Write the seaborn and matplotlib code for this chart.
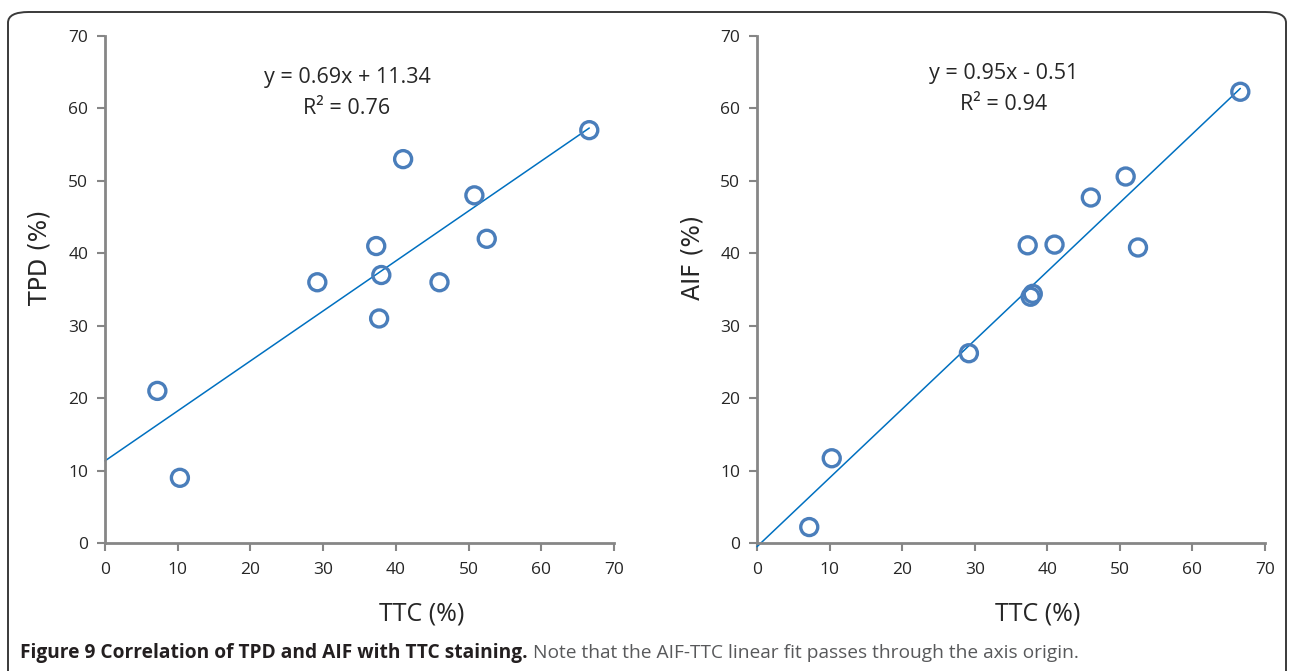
import numpy as np
import pandas as pd
import matplotlib
matplotlib.use('Agg')
import matplotlib.pyplot as plt
import seaborn as sns
from matplotlib.patches import FancyBboxPatch

# values
ttc = [7.2, 10.3, 29.2, 37.3, 37.7, 38.0, 41.0, 46.0, 50.8, 52.5, 66.6]
tpd = [21.0, 9.0, 36.0, 41.0, 31.0, 37.0, 53.0, 36.0, 48.0, 42.0, 57.0]
aif = [2.2, 11.7, 26.2, 41.1, 34.0, 34.4, 41.2, 47.7, 50.6, 40.8, 62.3]

# trendline coefficients as printed on the chart
fits = {'TPD': (0.69, 11.34, '0.76'), 'AIF': (0.95, -0.51, '0.94')}
ticks = [0, 10, 20, 30, 40, 50, 60, 70]

df = pd.DataFrame({'TTC': ttc, 'TPD': tpd, 'AIF': aif})

sns.set_style('white')
plt.rcParams['font.family'] = ['Open Sans', 'DejaVu Sans']

W, H = 1293, 671
fig = plt.figure(figsize=(W / 100, H / 100), dpi=100)
frame = FancyBboxPatch((8 / W, -0.05), 1278 / W, (H - 12) / H + 0.05,
                       boxstyle='round,pad=0,rounding_size=0.016',
                       transform=fig.transFigure, facecolor='none',
                       edgecolor='#3a3a3a', linewidth=1.4, clip_on=False)
fig.patches.append(frame)

axes_pos = [[105 / W, 128 / H, 509 / W, 507 / H],
            [757 / W, 128 / H, 508 / W, 507 / H]]
eq_x = [347, 1004]
eq_y = [77, 74]
xlab_x = [0.623, 0.553]

for i, col in enumerate(['TPD', 'AIF']):
    ax = fig.add_axes(axes_pos[i])
    slope, icpt, r2 = fits[col]
    xs = np.linspace(0, max(ttc), 50)
    sns.lineplot(x=xs, y=slope * xs + icpt, ax=ax, color='#0070C0', linewidth=1.1,
                 clip_on=False)
    sns.scatterplot(data=df, x='TTC', y=col, ax=ax, s=150, facecolor='none',
                    edgecolor='#4A7EBB', linewidth=2.4, zorder=3, clip_on=False)
    ax.set_xlim(0, 70)
    ax.set_ylim(0, 70)
    ax.set_xticks(ticks)
    ax.set_yticks(ticks)
    ax.tick_params(axis='both', direction='out', length=6, width=1.5, color='#868686',
                   labelsize=12.5, pad=6, bottom=True, left=True)
    ax.tick_params(axis='x', pad=8)
    for side in ['top', 'right']:
        ax.spines[side].set_visible(False)
    for side in ['left', 'bottom']:
        ax.spines[side].set_color('#868686')
        ax.spines[side].set_linewidth(2)
    ax.set_xlabel('TTC (%)', fontsize=18)
    ax.xaxis.set_label_coords(xlab_x[i], -(614 - 543) / 507)
    ax.xaxis.label.set_va('center')
    ax.set_ylabel(col + ' (%)', fontsize=17, family=['DejaVu Sans'])
    ax.yaxis.set_label_coords(-(105 - 40) / 509, (543 - 257) / 507)
    ax.yaxis.label.set_va('center')
    sign = '+' if icpt >= 0 else '-'
    fig.text(eq_x[i] / W, 1 - eq_y[i] / H,
             'y = {:.2f}x {} {:.2f}'.format(slope, sign, abs(icpt)),
             ha='center', va='center', fontsize=15.5)
    fig.text(eq_x[i] / W, 1 - (eq_y[i] + 31) / H, 'R² = ' + r2,
             ha='center', va='center', fontsize=15.5)

t1 = fig.text(20 / W, 1 - 653 / H, 'Figure 9 Correlation of TPD and AIF with TTC staining.',
              fontsize=13.8, fontweight='bold', color='#231F20', va='center')
plt.annotate(' Note that the AIF-TTC linear fit passes through the axis origin.',
             xy=(1, 0.5), xycoords=t1, va='center', ha='left',
             fontsize=13.8, color='#58595B', annotation_clip=False)

fig.savefig('out.png', dpi=100)
